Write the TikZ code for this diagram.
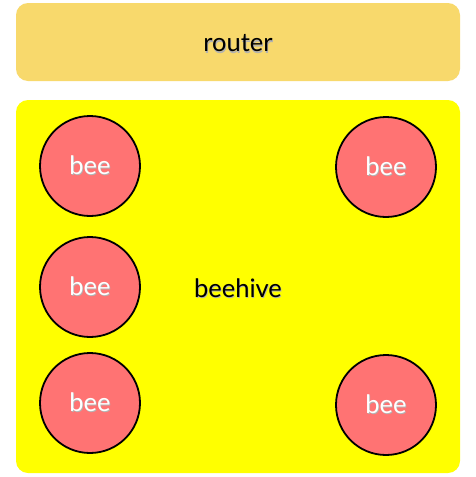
\documentclass[tikz,border=0pt]{standalone}
\usepackage{fontspec}
\setmainfont{Lato}
\definecolor{routerfill}{HTML}{F8D96C}
\definecolor{hivefill}{HTML}{FFFF00}
\definecolor{beefill}{HTML}{FF7373}
\newcommand{\shadowed}[2]{\rlap{\kern0.7pt\raisebox{-1.2pt}{\color{black!30}#2}}{\color{#1}#2}}
\tikzset{
  box/.style={rounded corners=12pt, minimum width=444pt, inner sep=0pt},
  bee/.style={circle, draw=black, line width=1.8pt, fill=beefill, minimum size=100pt, inner sep=0pt,
    font=\fontsize{25.5}{25.5}\selectfont},
  boxlabel/.style={font=\fontsize{25.5}{25.5}\selectfont}
}
\begin{document}
\begin{tikzpicture}[x=1pt, y=-1pt]
	\useasboundingbox[fill=white] (0,0) rectangle (476,477);
	% 1. Hai khung
	\node[box, fill=routerfill, minimum height=78pt] (router) at (238,42) {};
	\node[box, fill=hivefill, minimum height=373pt] (hive) at (238,286.5) {};
	
	% 2. Nhan cua khung
	\node[boxlabel] (routerlabel) at ([yshift=-2pt]router.center) {\shadowed{black}{router}};
	\node[boxlabel] (hivelabel) at ([yshift=-2pt]hive.center) {\shadowed{black}{beehive}};
	
	% 3. Cac con ong
	\node[bee] (bee1) at (90,166) {\shadowed{white}{bee}};
	\node[bee] (bee2) at (386,167) {\shadowed{white}{bee}};
	\node[bee] (bee3) at (90,287) {\shadowed{white}{bee}};
	\node[bee] (bee4) at (90,403) {\shadowed{white}{bee}};
	\node[bee] (bee5) at (386,405) {\shadowed{white}{bee}};
\end{tikzpicture}
\end{document}
